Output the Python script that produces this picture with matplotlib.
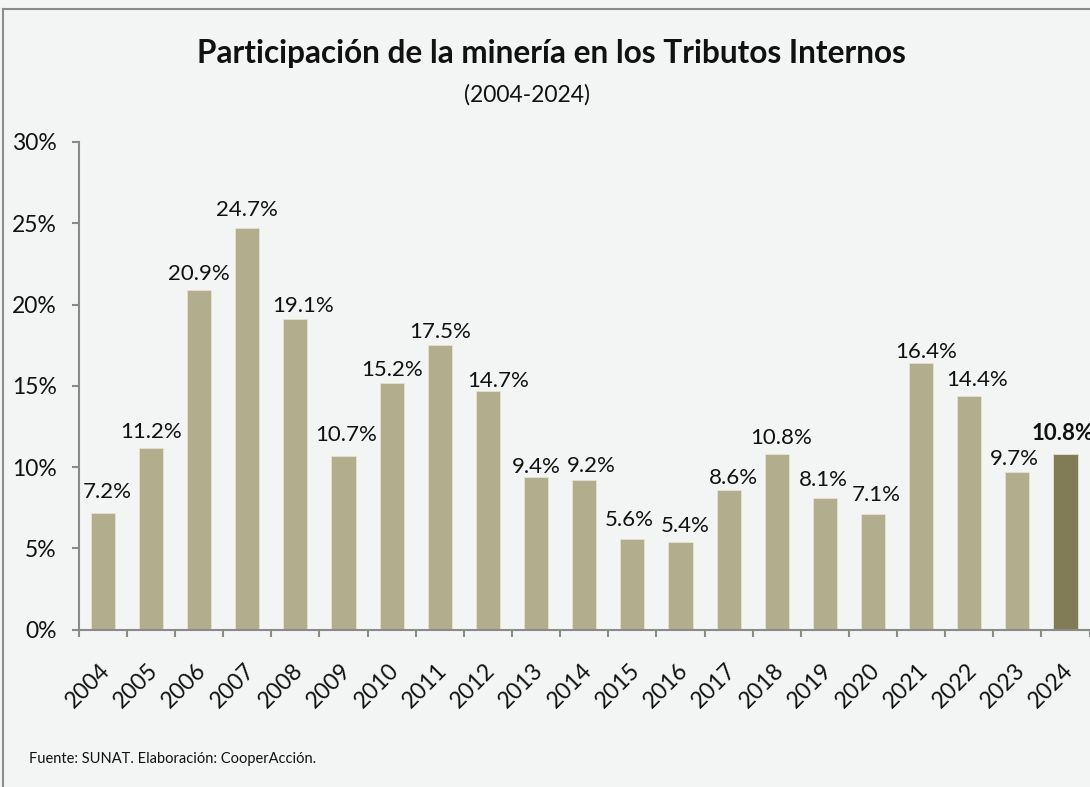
import matplotlib
matplotlib.use("Agg")
import matplotlib.pyplot as plt
from matplotlib.lines import Line2D
from matplotlib.transforms import ScaledTranslation
import numpy as np

plt.rcParams['font.family'] = ['Lato', 'DejaVu Sans']

# ---- data ----
years = ['2004', '2005', '2006', '2007', '2008', '2009', '2010', '2011', '2012', '2013',
         '2014', '2015', '2016', '2017', '2018', '2019', '2020', '2021', '2022', '2023', '2024']
share = [7.2, 11.2, 20.9, 24.7, 19.1, 10.7, 15.2, 17.5, 14.7, 9.4,
         9.2, 5.6, 5.4, 8.6, 10.8, 8.1, 7.1, 16.4, 14.4, 9.7, 10.8]
yticks = [0, 5, 10, 15, 20, 25, 30]
title = 'Participación de la minería en los Tributos Internos'
subtitle = '(2004-2024)'
source = 'Fuente: SUNAT. Elaboración: CooperAcción.'

# label offsets (pixels) relative to top-centre of each bar (style/position only)
label_dx = [4.5, 0, 0, 0, 8, 2.5, 0, 0, 10.5, 0, 7.5, -3, 4.5, 4.5, 4.5, -1, 3.5, 5.5, 7.5, -3, -2.5]
label_dy = [21, 16, 15.5, 18.5, 13.5, 20.5, 12.5, 13, 10, 9.5, 13.5, 18.5, 16, 12, 15.5, 17.5, 19.5, 10.5, 15.5, 12.5, 20.5]

W, H, DPI = 1090, 787, 100
bg = '#f3f5f4'
fig = plt.figure(figsize=(W / DPI, H / DPI), dpi=DPI, facecolor=bg)
ax = fig.add_axes([78.8 / W, 1 - 629.5 / H, (1089.6 - 78.8) / W, (629.5 - 142) / H])
ax.set_facecolor(bg)

x = np.arange(len(years))
colors = ['#b2ad8d'] * (len(years) - 1) + ['#817c55']
bars = ax.bar(x, share, width=0.5, color=colors, edgecolor='#e4e2d4', linewidth=0.6, zorder=2)

for i, (xi, v) in enumerate(zip(x, share)):
    last = i == len(years) - 1
    ax.annotate(f'{v:.1f}%', xy=(xi, v), xytext=(label_dx[i], label_dy[i]),
                textcoords='offset pixels', ha='center', va='center',
                fontsize=16, fontweight='bold' if last else 'normal',
                color='#111111', annotation_clip=False, zorder=3)

ax.set_xlim(-0.5, len(years) - 0.5)
ax.set_ylim(0, 30)
ax.set_yticks(yticks)
ax.set_yticklabels([f'{t}%' for t in yticks])

axis_col = '#8a8a8a'
for s in ['top', 'right']:
    ax.spines[s].set_visible(False)
for s in ['left', 'bottom']:
    ax.spines[s].set_color(axis_col)
    ax.spines[s].set_linewidth(1.5)

ax.tick_params(axis='y', direction='out', length=5, width=1.5, color=axis_col,
               labelsize=16.5, pad=11, labelcolor='#111111')
ax.set_xticks(x)
ax.set_xticklabels(years, rotation=45, ha='right', va='center', rotation_mode='anchor')
ax.set_xticks(np.arange(-0.5, len(years)), minor=True)
ax.tick_params(axis='x', which='major', length=0, labelsize=16.5, pad=27, labelcolor='#111111')
ax.tick_params(axis='x', which='minor', direction='out', length=5, width=1.5, color=axis_col)
for lab in ax.get_xticklabels():
    lab.set_transform(lab.get_transform() + ScaledTranslation(4 / DPI, 0, fig.dpi_scale_trans))

fig.text(551.5 / W, 1 - 63 / H, title, ha='center', va='baseline', fontsize=22.7,
         fontweight='bold', color='#111111')
fig.text(527 / W, 1 - 102 / H, subtitle, ha='center', va='baseline', fontsize=16.5, color='#111111')
fig.text(29 / W, 1 - 763 / H, source, ha='left', va='baseline', fontsize=10.5, color='#111111')

# outer frame (left and top edges visible in the crop)
fig.add_artist(Line2D([3 / W, 3 / W], [0, 1 - 9 / H], color='#8c8c8c', linewidth=1.5))
fig.add_artist(Line2D([3 / W, 1], [1 - 9 / H, 1 - 9 / H], color='#8c8c8c', linewidth=1.5))

fig.savefig('out.png', dpi=DPI, facecolor=bg)
